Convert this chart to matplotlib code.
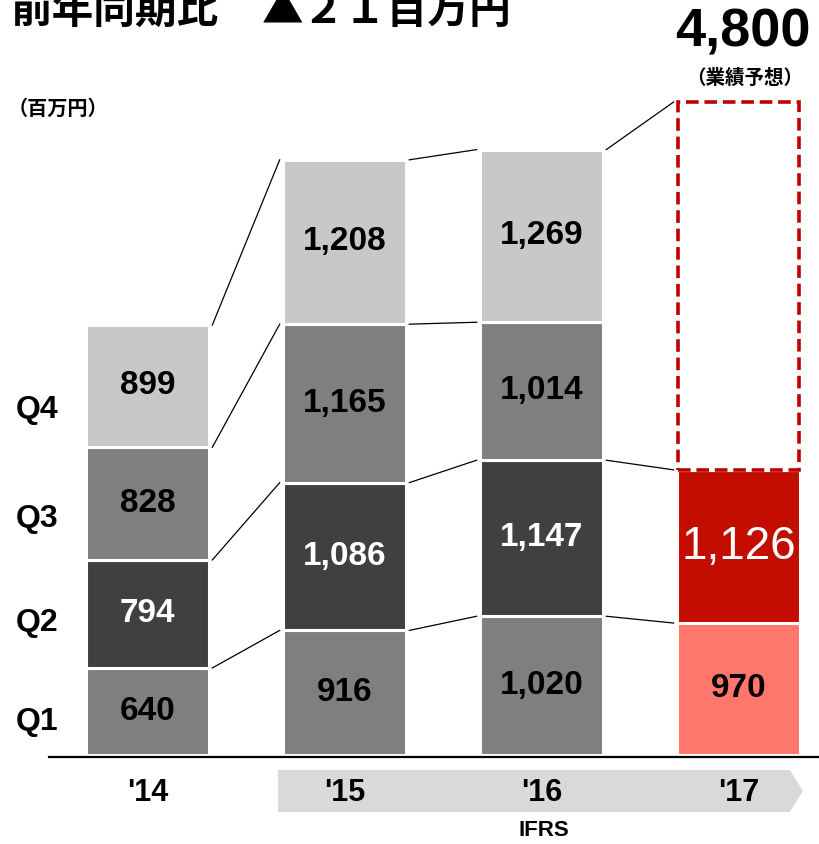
import numpy as np
import matplotlib.pyplot as plt
from matplotlib.patches import Polygon

# data (百万円)
years = ["'14", "'15", "'16", "'17"]
q1 = [640, 916, 1020, 970]
q2 = [794, 1086, 1147, 1126]
q3 = [828, 1165, 1014, 0]
q4 = [899, 1208, 1269, 0]
forecast_17 = 4800
yoy_diff = 21
quarters = ['Q1', 'Q2', 'Q3', 'Q4']

jp = ['Noto Sans CJK JP', 'DejaVu Sans']
num = ['Liberation Sans', 'DejaVu Sans']

fig = plt.figure(figsize=(8.19, 8.45), dpi=100)
ax = fig.add_axes([0, 0, 1, 1])
ax.set_xlim(-0.749, 3.409)
ax.set_ylim(-654, 5557)
ax.axis('off')

x = np.arange(len(years))
w = 0.624
grey = ['#7f7f7f', '#404040', '#7f7f7f', '#c8c8c8']
red = ['#ff766c', '#c30d00']
series = [q1, q2, q3, q4]

bottom = np.zeros(len(years))
tops = []
for k, vals in enumerate(series):
    vals = np.array(vals, dtype=float)
    cols = [grey[k]] * 3 + [red[k] if k < 2 else 'none']
    ax.bar(x, vals, w, bottom=bottom, color=cols, edgecolor='white', linewidth=2.2)
    for i in range(len(years)):
        if vals[i] == 0:
            continue
        yc = bottom[i] + vals[i] / 2
        if i == 3 and k == 1:
            ax.text(x[i], yc, f'{int(vals[i]):,}', ha='center', va='center',
                    color='white', fontsize=33, family=num)
        else:
            c = 'white' if k == 1 else 'black'
            ax.text(x[i], yc + 10, f'{int(vals[i]):,}', ha='center', va='center',
                    color=c, fontsize=24, fontweight='bold', family=num)
    bottom = bottom + vals
    tops.append(bottom.copy())

# forecast box
ax.bar(x[3], forecast_17 - tops[1][3], w * 0.985, bottom=tops[1][3], color='none',
       edgecolor='#c00000', linewidth=2.6, linestyle=(0, (3.5, 1.6)))

# connector lines
gap = 0.017
for i in range(3):
    for k in range(4):
        if i == 2 and k == 2:
            continue
        y0 = tops[k][i]
        y1 = forecast_17 if (i == 2 and k == 3) else tops[k][i + 1]
        ax.plot([x[i] + w / 2 + gap, x[i + 1] - w / 2 - gap], [y0, y1],
                color='black', lw=0.9)

# baseline
ax.plot([-0.5, 3.5], [-14, -14], color='black', lw=1.6)

# IFRS arrow band
ax.add_patch(Polygon([(0.662, -110), (3.261, -110), (3.327, -265),
                      (3.261, -419), (0.662, -419)], closed=True,
                     facecolor='#d9d9d9', edgecolor='none'))
for i, yr in enumerate(years):
    ax.text(x[i], -272, yr, ha='center', va='center', fontsize=22,
            fontweight='bold', family=num)
ax.text(2.01, -544, 'IFRS', ha='center', va='center', fontsize=16,
        fontweight='bold', family=num)

# quarter labels
for q, py in zip(quarters, [722, 623, 519, 410]):
    ax.text(-0.56, (756 - py) * 7.351, q, ha='center', va='center',
            fontsize=23, fontweight='bold', family=num)

# forecast label
ax.text(x[3] + 0.02, 5320, f'{forecast_17:,}', ha='center', va='center',
        fontsize=39, fontweight='bold', family=num)
ax.text(x[3] + 0.03, 4984, '（業績予想）', ha='center', va='center',
        fontsize=14, fontweight='bold', family=jp)

fig.text(8 / 819, 1 - 108 / 845, '（百万円）', ha='left', va='center',
         fontsize=14.5, fontweight='bold', family=jp)

# title (cut off at top, as in the original slide)
full = str.maketrans('0123456789', '０１２３４５６７８９')
fig.text(10 / 819, 1 - 23 / 845, '前年同期比', ha='left', va='baseline',
         fontsize=30, fontweight='bold', family=jp)
fig.text(262 / 819, 1 - 23 / 845, '▲' + str(yoy_diff).translate(full) + '百万円',
         ha='left', va='baseline', fontsize=30, fontweight='bold', family=jp)

fig.savefig('out.png', dpi=100)
